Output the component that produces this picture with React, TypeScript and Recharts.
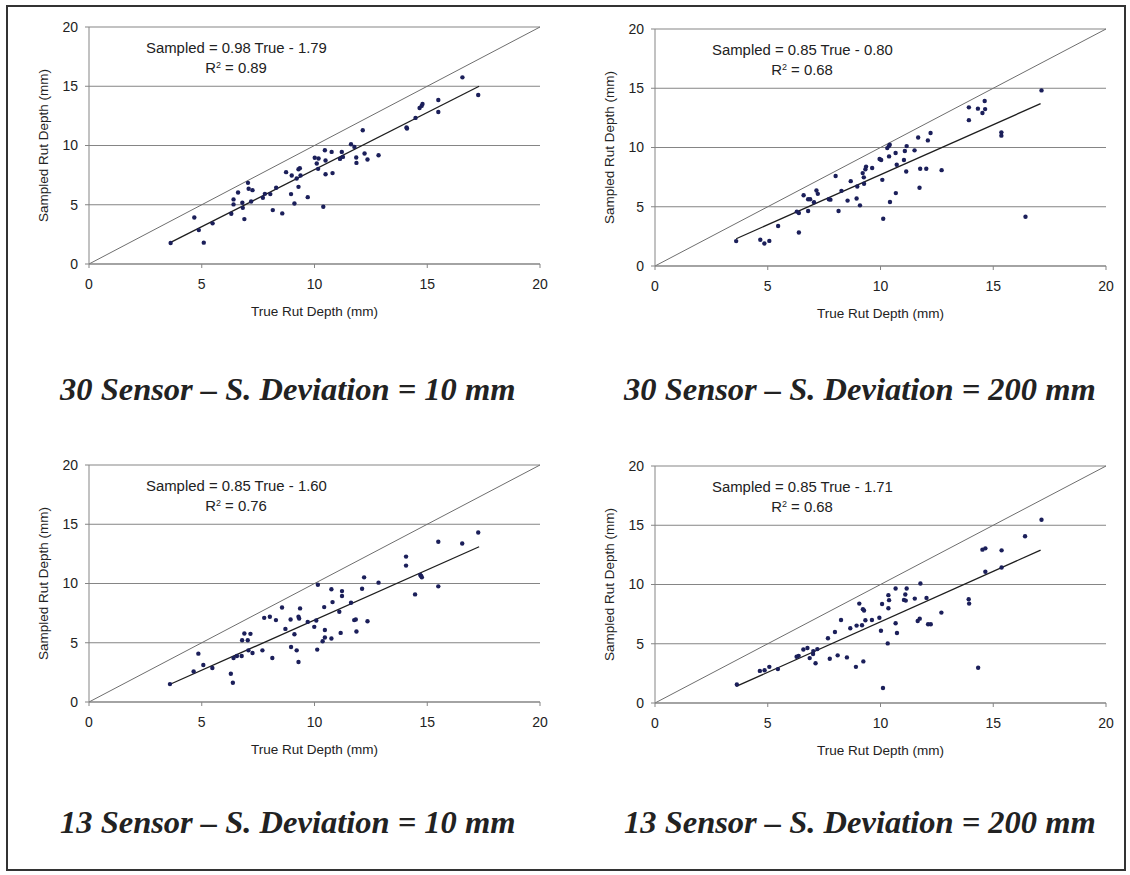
import React from 'react';
import { ScatterChart, Scatter, XAxis, YAxis, CartesianGrid, ReferenceLine, Label } from 'recharts';

// 30 sensor, s.d. = 10 mm
const trueA = [3.62, 4.67, 4.87, 5.09, 5.48, 6.31, 6.41, 6.41, 6.61, 6.8, 6.82, 6.89, 7.05, 7.08, 7.25, 7.19, 7.71, 7.8, 8.04, 8.15, 8.3, 8.57, 8.74, 8.96, 8.99, 9.11, 9.21, 9.29, 9.35, 9.29, 9.38, 9.7, 10.01, 10.18, 10.1, 10.16, 10.39, 10.46, 10.49, 10.49, 10.76, 10.8, 11.13, 11.21, 11.26, 11.62, 11.77, 11.85, 11.86, 12.14, 12.22, 12.35, 12.84, 14.08, 14.1, 14.48, 14.66, 14.75, 14.79, 15.49, 15.49, 16.56, 17.26];
const sampledA = [1.77, 3.93, 2.86, 1.8, 3.43, 4.24, 5.45, 5.03, 6.04, 5.17, 4.74, 3.79, 6.85, 6.35, 6.23, 5.28, 5.59, 5.92, 5.9, 4.55, 6.43, 4.27, 7.75, 5.9, 7.47, 5.11, 7.22, 8.0, 8.09, 6.51, 7.47, 5.64, 8.96, 8.9, 8.48, 8.03, 4.83, 9.6, 8.73, 7.58, 9.46, 7.67, 8.87, 9.46, 9.04, 10.11, 9.88, 8.99, 8.53, 11.29, 9.32, 8.82, 9.18, 11.52, 11.43, 12.33, 13.17, 13.34, 13.5, 13.84, 12.83, 15.75, 14.26];

// 30 sensor, s.d. = 200 mm
const trueB = [3.6, 4.67, 4.85, 5.07, 5.46, 6.38, 6.29, 6.38, 6.59, 6.79, 6.88, 6.79, 7.05, 7.16, 7.22, 7.71, 7.78, 8.01, 8.14, 8.27, 8.54, 8.68, 8.94, 8.97, 9.09, 9.21, 9.26, 9.27, 9.33, 9.36, 9.63, 9.96, 10.03, 10.08, 10.12, 10.3, 10.37, 10.41, 10.38, 10.42, 10.67, 10.68, 10.72, 11.04, 11.08, 11.14, 11.16, 11.51, 11.67, 11.73, 11.76, 12.03, 12.1, 12.22, 12.71, 13.92, 13.92, 14.32, 14.52, 14.62, 14.64, 15.36, 15.36, 16.43, 17.14];
const sampledB = [2.1, 2.21, 1.9, 2.12, 3.37, 2.83, 4.59, 4.47, 5.97, 5.63, 5.63, 4.64, 5.38, 6.37, 6.09, 5.63, 5.6, 7.59, 4.64, 6.34, 5.52, 7.16, 5.69, 6.71, 5.12, 7.84, 7.48, 6.94, 8.16, 8.39, 8.27, 9.03, 8.95, 7.27, 3.99, 9.95, 10.12, 10.24, 9.25, 5.4, 9.53, 6.15, 8.55, 8.94, 9.7, 7.98, 10.12, 9.76, 10.85, 6.6, 8.21, 8.21, 10.6, 11.22, 8.09, 13.39, 12.31, 13.28, 12.91, 13.92, 13.24, 11.28, 11.0, 4.16, 14.82];

// 13 sensor, s.d. = 10 mm
const trueC = [3.59, 4.64, 4.85, 5.07, 5.47, 6.29, 6.38, 6.41, 6.56, 6.77, 6.79, 6.89, 7.04, 7.07, 7.16, 7.25, 7.69, 7.77, 8.02, 8.13, 8.29, 8.56, 8.71, 8.94, 8.96, 9.11, 9.21, 9.29, 9.29, 9.32, 9.36, 9.7, 9.99, 10.08, 10.12, 10.15, 10.36, 10.46, 10.46, 10.43, 10.75, 10.75, 10.8, 11.1, 11.16, 11.22, 11.22, 11.62, 11.76, 11.83, 11.86, 12.11, 12.2, 12.35, 12.84, 14.06, 14.06, 14.46, 14.69, 14.73, 14.76, 15.49, 15.49, 16.55, 17.26];
const sampledC = [1.51, 2.58, 4.08, 3.12, 2.87, 2.39, 1.63, 3.71, 3.88, 3.88, 5.21, 5.78, 5.21, 4.36, 5.75, 4.14, 4.36, 7.1, 7.19, 3.71, 6.91, 7.98, 6.17, 6.96, 4.64, 5.72, 4.36, 3.37, 7.19, 7.05, 7.9, 6.76, 6.34, 6.88, 4.42, 9.9, 5.13, 6.08, 5.44, 8.01, 9.51, 5.36, 8.43, 7.61, 5.83, 9.36, 8.94, 8.37, 6.91, 6.96, 5.95, 9.56, 10.52, 6.82, 10.07, 12.27, 11.51, 9.08, 10.72, 10.64, 10.52, 13.52, 9.76, 13.37, 14.31];

// 13 sensor, s.d. = 200 mm
const trueD = [3.63, 4.65, 4.86, 5.07, 5.45, 6.28, 6.37, 6.58, 6.76, 6.86, 7.01, 7.02, 7.12, 7.2, 7.67, 7.75, 7.98, 8.1, 8.25, 8.51, 8.66, 8.91, 8.94, 9.06, 9.18, 9.22, 9.27, 9.24, 9.33, 9.62, 9.95, 10.02, 10.07, 10.11, 10.32, 10.35, 10.38, 10.35, 10.67, 10.67, 10.73, 11.04, 11.12, 11.1, 11.16, 11.52, 11.65, 11.74, 11.77, 12.04, 12.11, 12.23, 12.7, 13.91, 13.93, 14.33, 14.52, 14.65, 14.65, 15.37, 15.37, 16.41, 17.14];
const sampledD = [1.56, 2.71, 2.77, 3.05, 2.86, 3.9, 3.98, 4.52, 4.64, 3.79, 4.13, 4.38, 3.36, 4.55, 5.46, 3.73, 5.99, 4.02, 7.01, 3.85, 6.31, 3.05, 6.53, 8.39, 6.56, 7.92, 7.8, 3.51, 6.98, 7.01, 7.2, 6.1, 8.36, 1.27, 5.03, 8.0, 8.68, 9.1, 9.66, 6.73, 5.91, 8.7, 8.64, 9.15, 9.66, 8.81, 6.92, 7.12, 10.08, 8.87, 6.64, 6.64, 7.63, 8.76, 8.39, 2.97, 12.94, 13.05, 11.08, 12.88, 11.44, 14.07, 15.46];

// fitted line ends [x0, y0, x1, y1]
const trendA = [3.6, 1.8, 17.3, 15.0];
const trendB = [3.6, 2.3, 17.1, 13.7];
const trendC = [3.6, 1.5, 17.3, 13.1];
const trendD = [3.6, 1.4, 17.1, 12.9];

const equations = ['Sampled = 0.98 True - 1.79', 'Sampled = 0.85 True - 0.80', 'Sampled = 0.85 True - 1.60', 'Sampled = 0.85 True - 1.71'];
const r2Values = ['0.89', '0.68', '0.76', '0.68'];
const titles = [
  '30 Sensor – S. Deviation = 10 mm',
  '30 Sensor – S. Deviation = 200 mm',
  '13 Sensor – S. Deviation = 10 mm',
  '13 Sensor – S. Deviation = 200 mm',
];
const axisTicks = [0, 5, 10, 15, 20];

const SANS = '"Liberation Sans", Arial, sans-serif';
const SERIF = '"Liberation Serif", "Times New Roman", serif';
const GRID = '#858585';

const Dot = (props: any) => <circle cx={props.cx} cy={props.cy} r={2.2} fill="#1b1f5a" />;

interface PanelProps {
  xs: number[];
  ys: number[];
  trend: number[];
  equation: string;
  r2: string;
  left: number;
  top: number;
}

const Panel = ({ xs, ys, trend, equation, r2, left, top }: PanelProps) => {
  const data = xs.map((x, i) => ({ x, y: ys[i] }));
  const tickStyle = { fill: '#222', fontSize: 14, fontFamily: SANS };
  return (
    <div style={{ position: 'absolute', left, top, width: 560, height: 330 }}>
      <ScatterChart width={560} height={330} margin={{ top: 27, right: 20, bottom: 6, left: 0 }}>
        <CartesianGrid vertical={false} stroke={GRID} strokeWidth={1} />
        <XAxis
          type="number"
          dataKey="x"
          domain={[0, 20]}
          ticks={axisTicks}
          height={60}
          stroke={GRID}
          tickSize={4}
          tickMargin={11}
          tick={tickStyle}
        >
          <Label value="True Rut Depth (mm)" position="insideBottom" offset={8} style={{ fill: '#222', fontSize: 13.5, fontFamily: SANS }} />
        </XAxis>
        <YAxis
          type="number"
          dataKey="y"
          domain={[0, 20]}
          ticks={axisTicks}
          width={89}
          stroke={GRID}
          tickSize={4}
          tickMargin={7}
          tick={tickStyle}
        >
          <Label
            value="Sampled Rut Depth (mm)"
            angle={-90}
            position="insideLeft"
            offset={43}
            style={{ fill: '#222', fontSize: 13.5, fontFamily: SANS, textAnchor: 'middle' }}
          />
        </YAxis>
        <ReferenceLine segment={[{ x: 0, y: 0 }, { x: 20, y: 20 }]} stroke="#6e6e6e" strokeWidth={1} />
        <ReferenceLine segment={[{ x: trend[0], y: trend[1] }, { x: trend[2], y: trend[3] }]} stroke="#1e1e1e" strokeWidth={1.3} />
        <Scatter data={data} shape={<Dot />} isAnimationActive={false} />
      </ScatterChart>
      <div
        style={{
          position: 'absolute',
          left: 146,
          top: 38,
          width: 180,
          textAlign: 'center',
          fontFamily: SANS,
          fontSize: 14.9,
          lineHeight: '20px',
          color: '#222',
          whiteSpace: 'nowrap',
        }}
      >
        <div>{equation}</div>
        <div>
          R<sup style={{ fontSize: 9, verticalAlign: 'top', lineHeight: '14px' }}>2</sup> = {r2}
        </div>
      </div>
    </div>
  );
};

const titleStyle: React.CSSProperties = {
  position: 'absolute',
  fontFamily: SERIF,
  fontWeight: 'bold',
  fontStyle: 'italic',
  fontSize: 32.5,
  lineHeight: '32px',
  color: '#222',
  whiteSpace: 'nowrap',
};

export default function App() {
  return (
    <div style={{ position: 'absolute', left: 0, top: 0, width: 1130, height: 875, background: '#fff', overflow: 'hidden' }}>
      <div style={{ position: 'absolute', left: 6, top: 5, width: 1116, height: 862, border: '2px solid #333' }} />
      <Panel xs={trueA} ys={sampledA} trend={trendA} equation={equations[0]} r2={r2Values[0]} left={0} top={0} />
      <Panel xs={trueB} ys={sampledB} trend={trendB} equation={equations[1]} r2={r2Values[1]} left={566} top={2} />
      <Panel xs={trueC} ys={sampledC} trend={trendC} equation={equations[2]} r2={r2Values[2]} left={0} top={438} />
      <Panel xs={trueD} ys={sampledD} trend={trendD} equation={equations[3]} r2={r2Values[3]} left={566} top={439} />
      <div style={{ ...titleStyle, left: 60, top: 373 }}>{titles[0]}</div>
      <div style={{ ...titleStyle, left: 624, top: 373 }}>{titles[1]}</div>
      <div style={{ ...titleStyle, left: 60, top: 806 }}>{titles[2]}</div>
      <div style={{ ...titleStyle, left: 624, top: 806 }}>{titles[3]}</div>
    </div>
  );
}
